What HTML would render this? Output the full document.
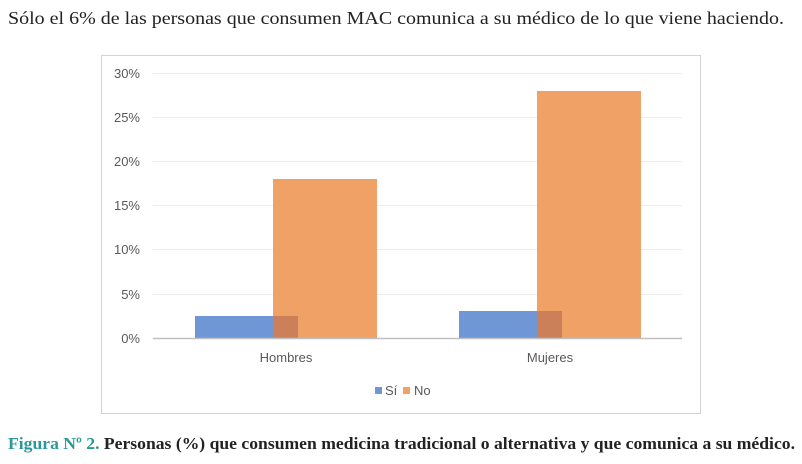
<!DOCTYPE html>
<html><head><meta charset="utf-8"><style>
html,body{margin:0;padding:0;background:#fff;}
svg{display:block;}
</style></head><body>
<svg width="802" height="464" xmlns="http://www.w3.org/2000/svg">
<text x="8" y="24" font-family="Liberation Serif, serif" font-size="17.5" fill="#222" textLength="776" lengthAdjust="spacingAndGlyphs">Sólo el 6% de las personas que consumen MAC comunica a su médico de lo que viene haciendo.</text>
<rect x="101.5" y="55.5" width="599" height="358" fill="#fff" stroke="#d4d4d4"/>
<g stroke="#ececec" stroke-width="1">
<line x1="153" x2="682" y1="73.5" y2="73.5"/>
<line x1="153" x2="682" y1="117.5" y2="117.5"/>
<line x1="153" x2="682" y1="161.5" y2="161.5"/>
<line x1="153" x2="682" y1="205.5" y2="205.5"/>
<line x1="153" x2="682" y1="249.5" y2="249.5"/>
<line x1="153" x2="682" y1="294.5" y2="294.5"/>
</g>
<g font-family="Liberation Sans, sans-serif" font-size="13" fill="#595959" text-anchor="end">
<text x="140" y="78">30%</text>
<text x="140" y="122">25%</text>
<text x="140" y="166">20%</text>
<text x="140" y="210">15%</text>
<text x="140" y="254">10%</text>
<text x="140" y="299">5%</text>
<text x="140" y="343">0%</text>
</g>
<rect x="195" y="316" width="103" height="22" fill="#6f97d5"/>
<rect x="273" y="179" width="104" height="159" fill="#f0a166"/>
<rect x="273" y="316" width="25" height="22" fill="#cb805a"/>
<rect x="459" y="311" width="103" height="27" fill="#6f97d5"/>
<rect x="537" y="91" width="104" height="247" fill="#f0a166"/>
<rect x="537" y="311" width="25" height="27" fill="#cb805a"/>
<line x1="153" x2="682" y1="338.5" y2="338.5" stroke="#bfbfbf" stroke-width="1.5"/>
<g font-family="Liberation Sans, sans-serif" font-size="13" fill="#595959" text-anchor="middle">
<text x="286" y="362">Hombres</text>
<text x="550" y="362">Mujeres</text>
</g>
<rect x="375" y="387" width="7" height="7" fill="#6f97d5"/>
<text x="385" y="395" font-family="Liberation Sans, sans-serif" font-size="13" fill="#595959">Sí</text>
<rect x="403" y="387" width="7" height="7" fill="#f0a166"/>
<text x="414" y="395" font-family="Liberation Sans, sans-serif" font-size="13" fill="#595959">No</text>
<text x="8" y="449" font-family="Liberation Serif, serif" font-size="17" font-weight="bold" textLength="787" lengthAdjust="spacingAndGlyphs"><tspan fill="#2a9a97">Figura Nº 2.</tspan><tspan fill="#222"> Personas (%) que consumen medicina tradicional o alternativa y que comunica a su médico.</tspan></text>
</svg>
</body></html>
